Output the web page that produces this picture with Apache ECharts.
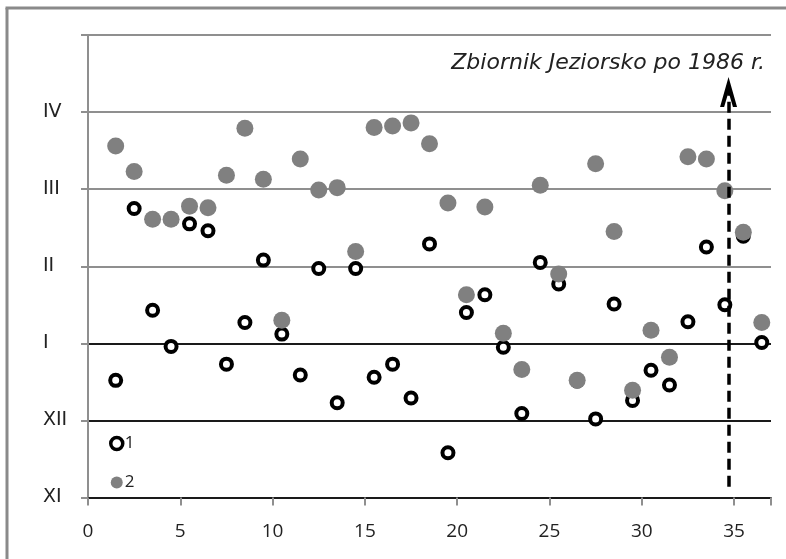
<!DOCTYPE html>
<html>
<head>
<meta charset="utf-8">
<script src="https://cdn.jsdelivr.net/npm/echarts@6/dist/echarts.min.js"></script>
<style>
html,body{margin:0;padding:0;background:#fff;}
#chart{width:786px;height:559px;}
</style>
</head>
<body>
<div id="chart"></div>
<script>
// x: kolejne lata (numer obserwacji)
const xValues = [1.5,2.5,3.5,4.5,5.5,6.5,7.5,8.5,9.5,10.5,11.5,12.5,13.5,14.5,15.5,16.5,17.5,18.5,19.5,20.5,21.5,22.5,23.5,24.5,25.5,26.5,27.5,28.5,29.5,30.5,31.5,32.5,33.5,34.5,35.5,36.5];
// seria 1 (białe kółka), wartości w skali miesięcy: XI=0, XII=1, I=2, II=3, III=4, IV=5
const series1 = [1.52,3.75,2.43,1.96,3.55,3.46,1.73,2.27,3.08,2.12,1.59,2.97,1.23,2.97,1.56,1.73,1.29,3.29,0.58,2.40,2.63,1.95,1.09,3.05,2.77,1.51,1.02,2.51,1.26,1.65,1.46,2.28,3.25,2.50,3.39,2.01];
// seria 2 (szare kółka)
const series2 = [4.56,4.23,3.61,3.61,3.78,3.76,4.18,4.79,4.13,2.30,4.39,3.99,4.02,3.19,4.80,4.82,4.86,4.59,3.82,2.63,3.77,2.13,1.66,4.05,2.90,1.52,4.33,3.45,1.39,2.17,1.82,4.42,4.39,3.98,3.44,2.27];
const yTickLabels = ['XI','XII','I','II','III','IV',''];
const seriesNames = ['1','2'];
const reservoirX = 34.7;
const arrowFromY = 0.14;
const arrowToY = 5.26;
const annotationText = 'Zbiornik Jeziorsko po 1986 r.';

const pairs = (ys) => xValues.map((x, i) => [x, ys[i]]);

const chart = echarts.init(document.getElementById('chart'), null, {renderer: 'canvas'});
const grayLine = '#8f8f8f';
const darkLine = '#1a1a1a';

chart.setOption({
  animation: false,
  backgroundColor: '#fff',
  grid: {left: 88, right: 15, top: 35, bottom: 61.5, containLabel: false},
  xAxis: {
    type: 'value', min: 0, max: 37, interval: 5,
    axisLine: {show: true, lineStyle: {color: darkLine, width: 2}},
    axisTick: {show: true, length: 8, lineStyle: {color: grayLine, width: 2}},
    splitLine: {show: false},
    axisLabel: {
      margin: 25, color: '#222', fontSize: 19, fontFamily: 'Open Sans',
      formatter: (v) => (v <= 35 ? String(v) : '')
    }
  },
  yAxis: {
    type: 'value', min: 0, max: 6, interval: 1,
    axisLine: {show: true, lineStyle: {color: grayLine, width: 2}},
    axisTick: {show: true, length: 7, lineStyle: {color: grayLine, width: 2}},
    splitLine: {show: true, lineStyle: {width: 2, color: [darkLine, darkLine, darkLine, grayLine, grayLine, grayLine, grayLine]}},
    axisLabel: {
      margin: 45, align: 'left', color: '#222', fontSize: 19, fontFamily: 'DejaVu Sans',
      formatter: (v) => yTickLabels[Math.round(v)] || ''
    }
  },
  legend: {
    show: true, orient: 'vertical', left: 104, top: 430,
    itemWidth: 12, itemHeight: 12, itemGap: 22,
    textStyle: {color: '#222', fontSize: 17, fontFamily: 'Open Sans', padding: [0,0,0,-3]},
    data: [
      {name: seriesNames[0], itemStyle: {color: '#ffffff', borderColor: '#000000', borderWidth: 3.5}},
      {name: seriesNames[1], itemStyle: {color: '#808080'}}
    ]
  },
  series: [
    {
      name: seriesNames[0], type: 'scatter', symbol: 'circle', symbolSize: 11,
      itemStyle: {color: '#ffffff', borderColor: '#000000', borderWidth: 4, opacity: 1},
      data: pairs(series1), z: 3
    },
    {
      name: seriesNames[1], type: 'scatter', symbol: 'circle', symbolSize: 17,
      itemStyle: {color: '#808080', opacity: 1},
      data: pairs(series2), z: 4,
      markLine: {
        silent: true, animation: false,
        symbol: ['none', 'path://M5,0 L10,14 L7.6,14 L5,7 L2.4,14 L0,14 Z'],
        symbolSize: [17, 30],
        lineStyle: {color: '#000', width: 3.5, type: [11, 6]},
        label: {show: false},
        data: [[{coord: [reservoirX, arrowFromY]}, {coord: [reservoirX, arrowToY]}]]
      }
    }
  ],
  graphic: [
    {type: 'line', shape: {x1: 7, y1: 8, x2: 7, y2: 559}, style: {stroke: '#8a8a8a', lineWidth: 3}, silent: true},
    {type: 'line', shape: {x1: 5.5, y1: 8, x2: 786, y2: 8}, style: {stroke: '#8a8a8a', lineWidth: 3}, silent: true},
    {type: 'text', right: 21, top: 52, silent: true,
     style: {text: annotationText, font: 'italic 22px "DejaVu Sans"', fill: '#222'}}
  ]
});
</script>
</body>
</html>
